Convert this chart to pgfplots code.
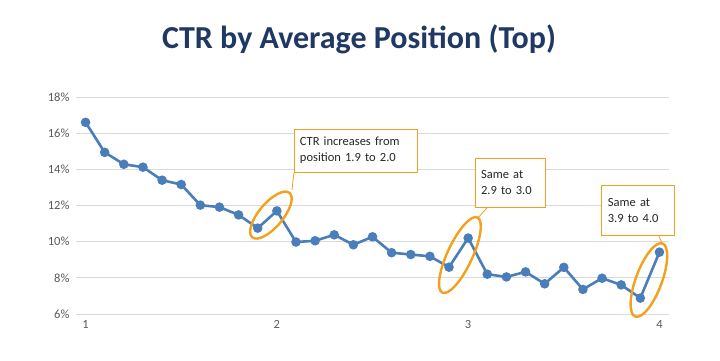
\documentclass[border=0pt]{standalone}
\usepackage{pgfplots}
\pgfplotsset{compat=1.18}
\usepackage{fontspec}
\setmainfont{Carlito}
\usetikzlibrary{shapes.geometric}
\definecolor{lineblue}{RGB}{74,126,187}
\definecolor{annorange}{RGB}{243,160,28}
\definecolor{titlenavy}{RGB}{31,56,100}
\definecolor{ticklab}{RGB}{89,89,89}
\definecolor{gridgray}{RGB}{217,217,217}
\begin{document}
\begin{tikzpicture}
\path[use as bounding box] (0,0) rectangle (720pt,360pt);
\node[font=\bfseries\fontsize{32}{36}\selectfont, text=titlenavy] at (359pt,321pt) {CTR by Average Position (Top)};
\begin{axis}[
  at={(76pt,46pt)}, anchor=south west,
  scale only axis, width=593pt, height=217pt,
  xmin=0.95, xmax=4.05, ymin=6, ymax=18,
  xtick={1,2,3,4}, ytick={6,8,...,18},
  yticklabel={\pgfmathprintnumber{\tick}\%},
  /pgf/number format/assume math mode=true,
  ymajorgrids, grid style={gridgray, line width=0.8pt},
  axis line style={draw=none},
  major tick length=0pt,
  tick label style={font=\fontsize{12.5}{14}\selectfont, text=ticklab},
  yticklabel style={xshift=-3pt},
  xticklabel style={yshift=-3pt},
  clip=false,
]
\addplot[color=lineblue, line width=2.6pt, mark=*, mark size=3.4pt, mark options={solid, fill=lineblue, draw=none}] coordinates {
(1.0,16.60) (1.1,14.94) (1.2,14.28) (1.3,14.12) (1.4,13.40) (1.5,13.16)
(1.6,12.02) (1.7,11.91) (1.8,11.48) (1.9,10.75) (2.0,11.70)
(2.1,9.98) (2.2,10.05) (2.3,10.38) (2.4,9.83) (2.5,10.27)
(2.6,9.39) (2.7,9.29) (2.8,9.19) (2.9,8.59) (3.0,10.20)
(3.1,8.20) (3.2,8.05) (3.3,8.33) (3.4,7.67) (3.5,8.58)
(3.6,7.36) (3.7,7.98) (3.8,7.61) (3.9,6.88) (4.0,9.42)
};
% ellipses
\node[draw=annorange, line width=2.4pt, ellipse, inner sep=0pt, minimum width=58pt, minimum height=24pt, rotate=50] at (axis cs:1.969,11.47) {};
\node[draw=annorange, line width=2.4pt, ellipse, inner sep=0pt, minimum width=83pt, minimum height=25pt, rotate=65] at (axis cs:2.957,9.26) {};
\node[draw=annorange, line width=2.4pt, ellipse, inner sep=0pt, minimum width=78pt, minimum height=26pt, rotate=69.5] at (axis cs:3.945,7.88) {};
% leader lines
\draw[annorange, line width=0.8pt] (axis cs:2.089,13.80) -- (axis cs:2.079,12.86);
\draw[annorange, line width=0.8pt] (axis cs:3.103,11.92) -- (axis cs:3.051,11.31);
\draw[annorange, line width=0.8pt] (axis cs:3.997,10.31) -- (axis cs:4.012,9.98);
% boxes
\node[draw=annorange, fill=white, line width=0.9pt, minimum width=123pt, minimum height=43pt, text width=111pt, align=left, inner sep=6pt, font=\fontsize{12.5}{16}\selectfont, text=black!85] at (axis cs:2.411,15.04) {CTR increases from\\position 1.9 to 2.0};
\node[draw=annorange, fill=white, line width=0.9pt, minimum width=70pt, minimum height=49pt, text width=58pt, align=left, inner sep=6pt, font=\fontsize{12.5}{16}\selectfont, text=black!85] at (axis cs:3.219,13.27) {Same at\\2.9 to 3.0};
\node[draw=annorange, fill=white, line width=0.9pt, minimum width=73pt, minimum height=50pt, text width=61pt, align=left, inner sep=6pt, font=\fontsize{12.5}{16}\selectfont, text=black!85] at (axis cs:3.890,11.75) {Same at\\3.9 to 4.0};
\end{axis}
\end{tikzpicture}
\end{document}
